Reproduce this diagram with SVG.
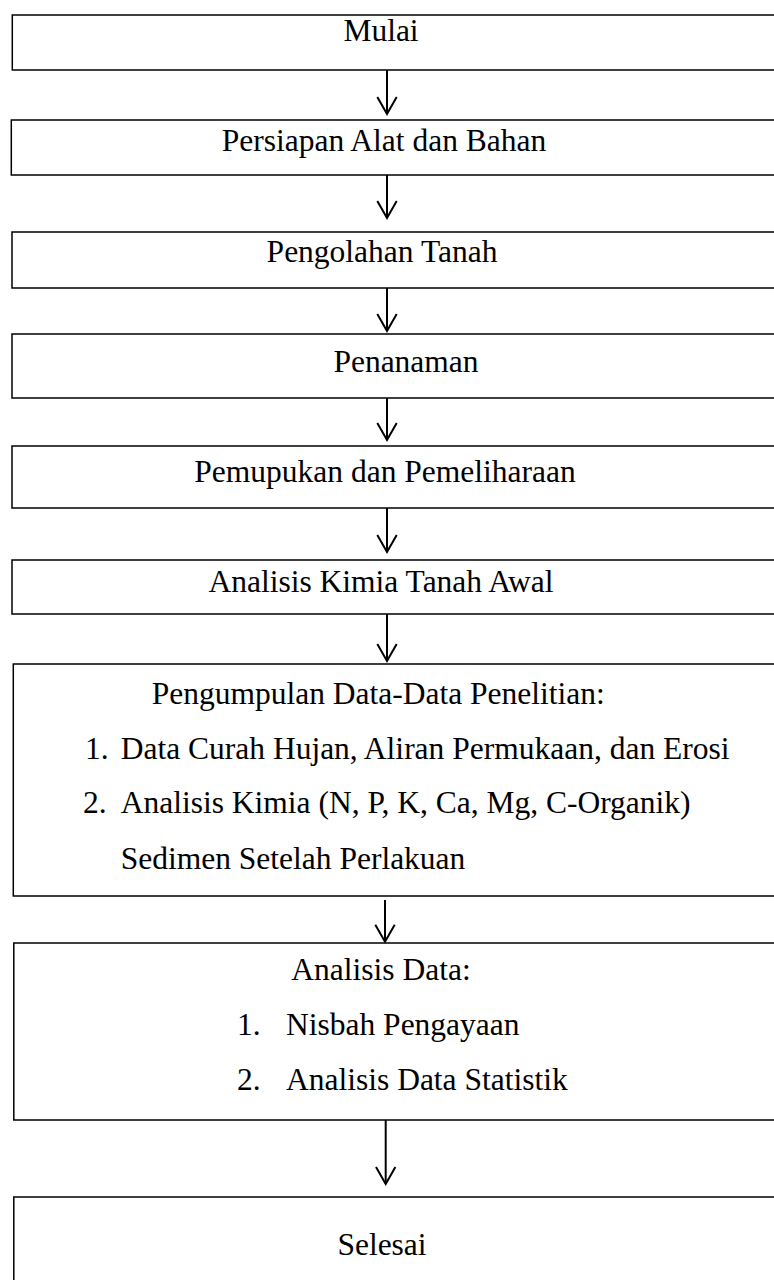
<svg xmlns="http://www.w3.org/2000/svg" width="774" height="1280" viewBox="0 0 774 1280">
<style>
.box{fill:#fff;stroke:#000;stroke-width:1.5}
.t{font-family:"Liberation Serif","Times New Roman",serif;font-size:31.5px;fill:#000}
.c{text-anchor:middle}
.conn line{stroke:#000;stroke-width:2;marker-end:url(#arr)}
</style>
<defs>
<marker id="arr" markerUnits="userSpaceOnUse" markerWidth="40" markerHeight="40" refX="0" refY="0" orient="auto" overflow="visible">
<path d="M-17,-9.7 L0,0 L-17,9.7" fill="none" stroke="#000" stroke-width="2"/>
</marker>
</defs>
<rect width="774" height="1280" fill="#fff"/>
<g id="n1"><rect class="box" x="12.3" y="15" width="780" height="55"/><text class="t c" x="381" y="40.7">Mulai</text></g>
<g id="n2"><rect class="box" x="11.3" y="120" width="780" height="55"/><text class="t c" x="384" y="150.7">Persiapan Alat dan Bahan</text></g>
<g id="n3"><rect class="box" x="12" y="232" width="780" height="56"/><text class="t c" x="382" y="262">Pengolahan Tanah</text></g>
<g id="n4"><rect class="box" x="12" y="334" width="780" height="64"/><text class="t c" x="406" y="372">Penanaman</text></g>
<g id="n5"><rect class="box" x="12" y="446" width="780" height="62"/><text class="t c" x="385" y="482">Pemupukan dan Pemeliharaan</text></g>
<g id="n6"><rect class="box" x="12" y="560" width="780" height="54"/><text class="t c" x="381" y="592">Analisis Kimia Tanah Awal</text></g>
<g id="n7"><rect class="box" x="13.3" y="664" width="780" height="232"/>
<text class="t" x="151.7" y="704">Pengumpulan Data-Data Penelitian:</text>
<text class="t" x="85" y="759">1.</text><text class="t" x="120.7" y="759">Data Curah Hujan, Aliran Permukaan, dan Erosi</text>
<text class="t" x="83" y="813">2.</text><text class="t" x="120.7" y="813">Analisis Kimia (N, P, K, Ca, Mg, C-Organik)</text>
<text class="t" x="120.7" y="869">Sedimen Setelah Perlakuan</text></g>
<g id="n8"><rect class="box" x="13.8" y="943" width="780" height="177"/>
<text class="t c" x="381" y="980">Analisis Data:</text>
<text class="t" x="237" y="1035">1.</text><text class="t" x="286" y="1035">Nisbah Pengayaan</text>
<text class="t" x="237" y="1090">2.</text><text class="t" x="286" y="1090">Analisis Data Statistik</text></g>
<g id="n9"><rect class="box" x="13.8" y="1197" width="780" height="100"/><text class="t c" x="382" y="1255">Selesai</text></g>
<g id="connectors" class="conn">
<line x1="387" y1="70" x2="387" y2="114"/>
<line x1="387" y1="175" x2="387" y2="218"/>
<line x1="387" y1="288" x2="387" y2="331"/>
<line x1="387" y1="398" x2="387" y2="440"/>
<line x1="387" y1="508" x2="387" y2="552"/>
<line x1="387" y1="614" x2="387" y2="661"/>
<line x1="385" y1="900" x2="385" y2="941.7"/>
<line x1="385.7" y1="1120" x2="385.7" y2="1184"/>
</g>
</svg>
